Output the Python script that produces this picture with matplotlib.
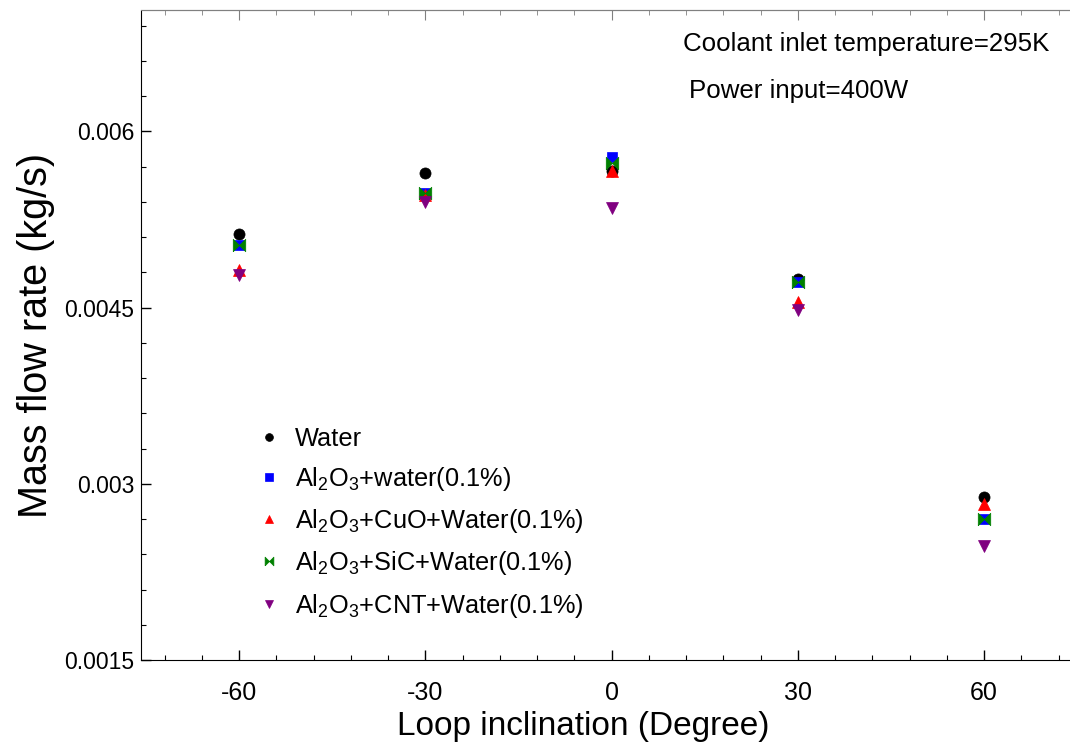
import matplotlib
matplotlib.use('Agg')
import matplotlib.pyplot as plt
from matplotlib.ticker import MultipleLocator, FuncFormatter

plt.rcParams['font.family'] = ['Liberation Sans', 'DejaVu Sans']
plt.rcParams['mathtext.fontset'] = 'custom'
plt.rcParams['mathtext.rm'] = 'Liberation Sans'
plt.rcParams['axes.unicode_minus'] = False

inclination = [-60, -30, 0, 30, 60]

water = [0.00513, 0.00565, 0.00566, 0.00474, 0.00289]
al2o3 = [0.00503, 0.00548, 0.00578, 0.00472, 0.00270]
al2o3_cuo = [0.00482, 0.00546, 0.00566, 0.00455, 0.00283]
al2o3_sic = [0.00503, 0.00548, 0.00573, 0.00472, 0.00270]
al2o3_cnt = [0.00478, 0.00540, 0.00535, 0.00448, 0.00247]

labels = ['Water',
          r'Al$_2$O$_3$+water(0.1%)',
          r'Al$_2$O$_3$+CuO+Water(0.1%)',
          r'Al$_2$O$_3$+SiC+Water(0.1%)',
          r'Al$_2$O$_3$+CNT+Water(0.1%)']

bowtie = [(-1, -1), (-1, 1), (1, -1), (1, 1), (-1, -1)]

series = [
    (water, 'black', 'o', 8),
    (al2o3, '#0000ff', 's', 7.5),
    (al2o3_cuo, '#ff0000', '^', 8),
    (al2o3_sic, '#008000', bowtie, 9),
    (al2o3_cnt, '#800080', 'v', 8),
]

fig = plt.figure(figsize=(10.7, 7.52), dpi=100)
ax = fig.add_axes([141 / 1070, 92 / 752, 930 / 1070, 649.5 / 752])

for (vals, color, marker, ms), label in zip(series, labels):
    ax.plot(inclination, vals, linestyle='none', marker=marker, color=color,
            markersize=ms, markeredgewidth=0.5, label=label)

ax.set_xlim(-75.8, 74)
ax.set_ylim(0.0015, 0.00703)

ax.xaxis.set_major_locator(MultipleLocator(30))
ax.xaxis.set_minor_locator(MultipleLocator(6))
ax.yaxis.set_major_locator(MultipleLocator(0.0015))
ax.yaxis.set_minor_locator(MultipleLocator(0.0003))
ax.yaxis.set_major_formatter(FuncFormatter(lambda v, p: '%g' % v))

ax.tick_params(which='major', direction='in', length=7, width=1, labelsize=16.5)
ax.tick_params(which='minor', direction='in', length=3.5, width=0.8)
ax.tick_params(axis='x', labelsize=18, pad=15)
ax.tick_params(axis='y', pad=5)

ax.spines['right'].set_visible(False)
ax.spines['top'].set_color('#808080')

top = ax.secondary_xaxis('top')
top.xaxis.set_major_locator(MultipleLocator(30))
top.xaxis.set_minor_locator(MultipleLocator(6))
top.tick_params(which='both', direction='in', colors='#808080', labeltop=False)
top.tick_params(which='major', length=7)
top.tick_params(which='minor', length=3.5)
top.spines['top'].set_color('#808080')

ax.set_xlabel('Loop inclination (Degree)', fontsize=24)
ax.set_ylabel('Mass flow rate (kg/s)', fontsize=28.5)
ax.xaxis.set_label_coords(0.476, -0.078)
ax.yaxis.set_label_coords(-0.093, 0.5)

ax.text(0.583, 0.948, 'Coolant inlet temperature=295K', transform=ax.transAxes,
        fontsize=18.6, va='center', ha='left')
ax.text(0.589, 0.876, 'Power input=400W', transform=ax.transAxes,
        fontsize=18.6, va='center', ha='left')

ax.legend(loc='upper left', bbox_to_anchor=(0.114, 0.375), frameon=False,
          fontsize=18.3, markerscale=0.7, handlelength=0.9, handletextpad=0.6,
          labelspacing=0.56, borderaxespad=0)

fig.savefig('out.png', dpi=100)
